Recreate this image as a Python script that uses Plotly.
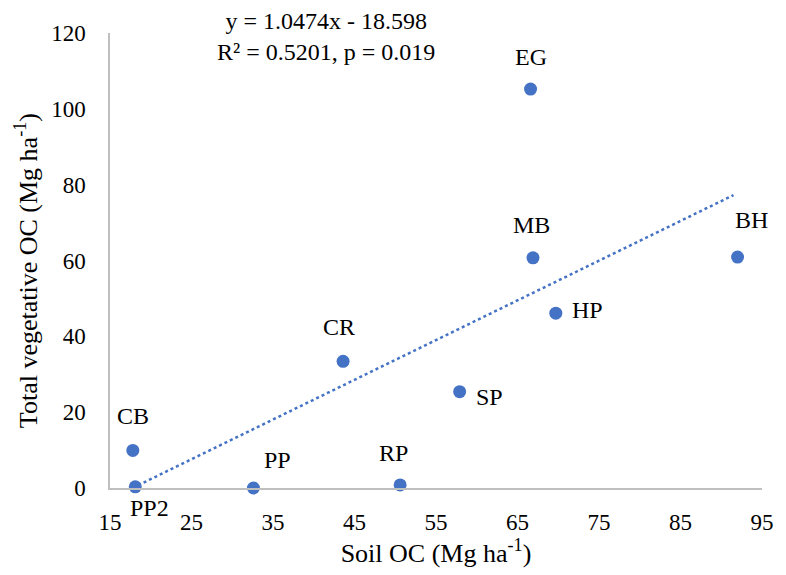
import plotly.graph_objects as go

# Site codes with soil and vegetative organic carbon stocks (Mg ha-1)
sites = ["CB", "PP2", "PP", "CR", "RP", "SP", "HP", "EG", "MB", "BH"]
soil_oc = [17.8, 18.1, 32.6, 43.6, 50.6, 57.9, 69.7, 66.6, 66.9, 92.0]
veg_oc = [9.9, 0.3, 0.0, 33.4, 0.8, 25.4, 46.1, 105.2, 60.7, 60.9]

# Linear fit reported on the chart
slope = 1.0474
intercept = -18.598
r_squared = 0.5201
p_value = 0.019

# Label offsets in pixels (dx, dy up)
label_offsets = {
    "CB": (0, 34), "PP2": (14, -21), "PP": (24, 28), "CR": (-4, 34),
    "RP": (-7, 32), "SP": (30, -5), "HP": (32, 3), "EG": (0, 32),
    "MB": (-1, 33), "BH": (14, 37),
}

blue = "#4472C4"
font_family = "Liberation Serif"

x_fit = [min(soil_oc), 91.5]
y_fit = [slope * x + intercept for x in x_fit]

fig = go.Figure()
fig.add_trace(go.Scatter(
    x=x_fit, y=y_fit, mode="lines",
    line=dict(color=blue, width=2.5, dash="dot"),
    cliponaxis=False, hoverinfo="skip",
))
fig.add_trace(go.Scatter(
    x=soil_oc, y=veg_oc, mode="markers",
    marker=dict(color=blue, size=13),
    cliponaxis=False,
))

for name, x, y in zip(sites, soil_oc, veg_oc):
    dx, dy = label_offsets[name]
    fig.add_annotation(
        x=x, y=y, text=name, showarrow=False,
        xshift=dx, yshift=dy,
        font=dict(family=font_family, size=24, color="#000000"),
    )

fig.add_annotation(
    xref="paper", yref="paper", x=0.331, y=0.993,
    text=f"y = {slope}x - {abs(intercept)}<br>R² = {r_squared}, p = {p_value}",
    showarrow=False, xanchor="center", yanchor="middle", align="center",
    font=dict(family=font_family, size=24, color="#000000"),
)

# Vertical axis title, placed slightly below the plot-area centre
fig.add_annotation(
    xref="paper", yref="paper", x=-0.127, y=0.477,
    text="Total vegetative OC (Mg ha<sup>-1</sup>)",
    textangle=-90, showarrow=False, xanchor="center", yanchor="middle",
    font=dict(family=font_family, size=26, color="#000000"),
)

fig.update_layout(
    width=786, height=575,
    margin=dict(l=110, r=20, t=33, b=83),
    plot_bgcolor="white", paper_bgcolor="white",
    showlegend=False,
    font=dict(family=font_family, size=23, color="#000000"),
    xaxis=dict(
        range=[15, 95], tickvals=[15, 25, 35, 45, 55, 65, 75, 85, 95],
        showgrid=False, zeroline=False, showline=True,
        linecolor="#BFBFBF", linewidth=1.5, ticks="",
        ticklabelstandoff=13,
        title=dict(text="Soil OC (Mg ha<sup>-1</sup>)", standoff=9,
                   font=dict(family=font_family, size=26)),
        tickfont=dict(family=font_family, size=23),
    ),
    yaxis=dict(
        range=[0, 120], tickvals=[0, 20, 40, 60, 80, 100, 120],
        showgrid=False, zeroline=False, showline=True,
        linecolor="#BFBFBF", linewidth=1.5, ticks="",
        ticklabelstandoff=18,
        tickfont=dict(family=font_family, size=23),
    ),
)

fig.write_html("out.html")
